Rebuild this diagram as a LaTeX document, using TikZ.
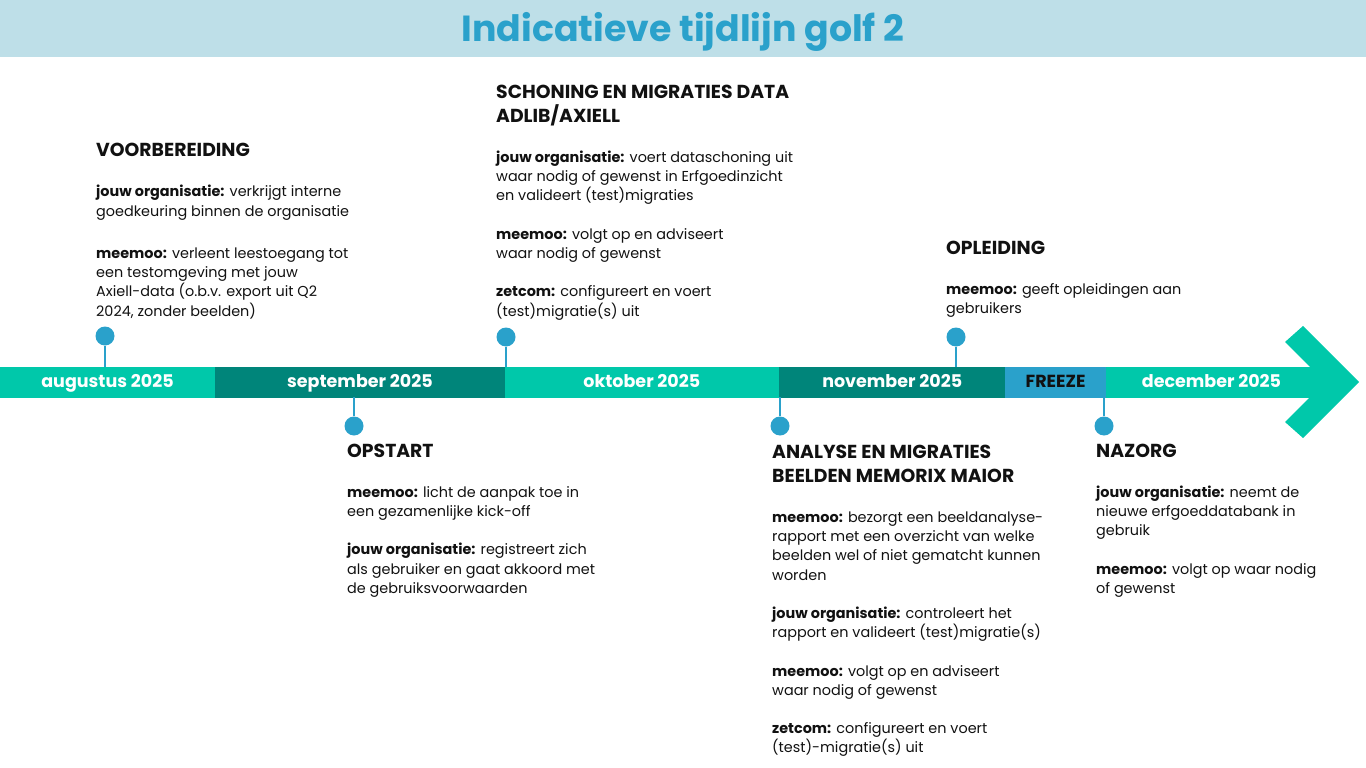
\documentclass[tikz,border=0pt]{standalone}
\usepackage{fontspec}
\setmainfont{Poppins}
\usetikzlibrary{positioning}

\definecolor{titelband}{HTML}{BEDFE8}
\definecolor{blauw}{HTML}{2AA1CB}
\definecolor{lichtgroen}{HTML}{00C8AA}
\definecolor{donkergroen}{HTML}{00857A}
\definecolor{inkt}{HTML}{111111}

\newcommand{\titelfont}{\fontsize{36.3}{44}\selectfont\bfseries}
\newcommand{\maandfont}{\fontsize{17.5}{20}\selectfont\bfseries}
\newcommand{\kopfont}{\fontsize{18.8}{24}\selectfont\bfseries}
\newcommand{\tekstfont}{\fontsize{14.4}{19.3}\selectfont}

\begin{document}
\begin{tikzpicture}
    [x=1pt, y=1pt,
    node distance=0pt,
    maand/.style={fill=#1, draw=#1, minimum height=30pt, inner sep=0pt, text height=12pt, text depth=1pt, text=white, font=\maandfont},
    kop/.style={anchor=base west, inner sep=0pt, align=left, font=\kopfont, text=inkt},
    tekst/.style={inner sep=0pt, align=left, font=\tekstfont, text=inkt},
    bol/.style={circle, fill=blauw, minimum size=19pt, inner sep=0pt},
    steel/.style={draw=blauw, line width=2.8pt}]
    \useasboundingbox (0,0) rectangle (1366,-768);

    %% titel
    \fill[titelband] (0,0) rectangle (1366,-57);
    \node[anchor=base, font=\titelfont, text=blauw] (titel) at (683,-42) {Indicatieve tijdlijn golf 2};

    %% tijdlijn
    \node[maand=lichtgroen, minimum width=215pt] (aug) at (107.5,-382) {augustus 2025};
    \node[maand=donkergroen, minimum width=289pt, right=of aug] (sep) {september 2025};
    \node[maand=lichtgroen, minimum width=274pt, right=of sep] (okt) {oktober 2025};
    \node[maand=donkergroen, minimum width=226pt, right=of okt] (nov) {november 2025};
    \node[maand=blauw, minimum width=100pt, right=of nov, text=inkt] (frz) {FREEZE};
    \node[maand=lichtgroen, minimum width=211pt, right=of frz] (dec) {december 2025};
    \fill[lichtgroen] (1285,-342) -- (1303,-326) -- (1359,-382) -- (1303,-438) -- (1285,-422)
        -- (1310,-397) -- (1300,-397) -- (1300,-367) -- (1310,-367) -- cycle;

    %% mijlpalen
    \node[bol] (p1) at (105,-336) {};
    \node[bol] (p2) at (354,-426) {};
    \node[bol] (p3) at (506,-337) {};
    \node[bol] (p4) at (780,-426) {};
    \node[bol] (p5) at (956,-337) {};
    \node[bol] (p6) at (1104,-426) {};
    \draw[steel] (p1) -- (p1 |- aug.north);
    \draw[steel] (p2) -- (p2 |- sep.south);
    \draw[steel] (p3) -- (p3 |- okt.north);
    \draw[steel] (p4) -- (p4 |- nov.south);
    \draw[steel] (p5) -- (p5 |- nov.north);
    \draw[steel] (p6) -- (p6 |- dec.south);

    %% boven de tijdlijn
    \node[kop] (voorb) at (96,-156) {VOORBEREIDING};
    \node[tekst, below=27pt of voorb.base west, anchor=north west] (voorbtxt)
        {\strut\textbf{jouw organisatie:} verkrijgt interne\\goedkeuring binnen de organisatie\\[23pt]
         \textbf{meemoo:} verleent leestoegang tot\\een testomgeving met jouw\\Axiell-data (o.b.v. export uit Q2\\2024, zonder beelden)};

    \node[kop] (schon) at (496,-122.5) {SCHONING EN MIGRATIES DATA\\ADLIB/AXIELL};
    \node[tekst, below=26pt of schon.base west, anchor=north west] (schontxt)
        {\strut\textbf{jouw organisatie:} voert dataschoning uit\\waar nodig of gewenst in Erfgoedinzicht\\en valideert (test)migraties\\[19pt]
         \textbf{meemoo:} volgt op en adviseert\\waar nodig of gewenst\\[19pt]
         \textbf{zetcom:} configureert en voert\\(test)migratie(s) uit};

    \node[kop] (oplei) at (946,-254.5) {OPLEIDING};
    \node[tekst, below=26pt of oplei.base west, anchor=north west] (opleitxt)
        {\strut\textbf{meemoo:} geeft opleidingen aan\\gebruikers};

    %% onder de tijdlijn
    \node[kop] (opst) at (347,-457.5) {OPSTART};
    \node[tekst, below=26pt of opst.base west, anchor=north west] (opsttxt)
        {\strut\textbf{meemoo:} licht de aanpak toe in\\een gezamenlijke kick-off\\[19pt]
         \textbf{jouw organisatie:} registreert zich\\als gebruiker en gaat akkoord met\\de gebruiksvoorwaarden};

    \node[kop] (analy) at (772,-482.5) {ANALYSE EN MIGRATIES\\BEELDEN MEMORIX MAIOR};
    \node[tekst, below=26pt of analy.base west, anchor=north west] (analytxt)
        {\strut\textbf{meemoo:} bezorgt een beeldanalyse-\\rapport met een overzicht van welke\\beelden wel of niet gematcht kunnen\\worden\\[19pt]
         \textbf{jouw organisatie:} controleert het\\rapport en valideert (test)migratie(s)\\[19pt]
         \textbf{meemoo:} volgt op en adviseert\\waar nodig of gewenst\\[19pt]
         \textbf{zetcom:} configureert en voert\\(test)-migratie(s) uit};

    \node[kop] (nazorg) at (1096,-457.5) {NAZORG};
    \node[tekst, below=26pt of nazorg.base west, anchor=north west] (nazorgtxt)
        {\strut\textbf{jouw organisatie:} neemt de\\nieuwe erfgoeddatabank in\\gebruik\\[19pt]
         \textbf{meemoo:} volgt op waar nodig\\of gewenst};
\end{tikzpicture}
\end{document}
